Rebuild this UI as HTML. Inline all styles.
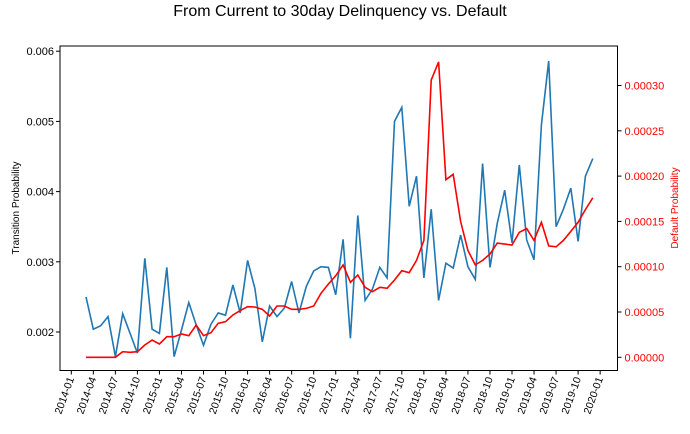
<!DOCTYPE html>
<html><head><meta charset="utf-8"><style>
body{margin:0;background:#fff;}
svg{display:block;font-family:"Liberation Sans","DejaVu Sans",sans-serif;}
</style></head><body>
<svg id="chart" width="690" height="434">
<text x="340" y="16" text-anchor="middle" font-size="16" fill="#000">From Current to 30day Delinquency vs. Default</text>
<text transform="translate(19,208) rotate(-90)" text-anchor="middle" font-size="10">Transition Probability</text>
<text transform="translate(678,208) rotate(-90)" text-anchor="middle" font-size="10" fill="#ff0000">Default Probability</text>
</svg>
<script>
const startYear = 2014, startMonth = 3;
const transition = [0.00250,0.00204,0.00209,0.00222,0.00165,0.00226,0.00198,0.00170,0.00305,0.00204,0.00198,0.00292,0.00165,0.00203,0.00242,0.00210,0.00181,0.00211,0.00227,0.00224,0.00267,0.00227,0.00302,0.00262,0.00186,0.00237,0.00222,0.00234,0.00272,0.00227,0.00265,0.00287,0.00293,0.00292,0.00253,0.00332,0.00191,0.00366,0.00245,0.00261,0.00292,0.00277,0.00500,0.00520,0.00379,0.00422,0.00277,0.00375,0.00245,0.00298,0.00291,0.00338,0.00293,0.00275,0.00440,0.00292,0.00355,0.00402,0.00327,0.00438,0.00331,0.00303,0.00495,0.00586,0.00350,0.00375,0.00405,0.00329,0.00422,0.00447];
const defaultProb = [0,0,0,0,0,0.0000062,0.0000055,0.0000062,0.0000136,0.000019,0.0000147,0.0000227,0.0000227,0.0000257,0.0000238,0.0000357,0.0000238,0.0000272,0.0000375,0.0000393,0.0000467,0.0000515,0.0000559,0.0000555,0.000053,0.0000456,0.0000566,0.0000566,0.000053,0.000053,0.000054,0.0000566,0.0000706,0.0000809,0.000090,0.000102,0.0000828,0.0000908,0.0000773,0.0000724,0.0000773,0.0000762,0.0000853,0.0000956,0.0000934,0.000107,0.000129,0.000306,0.000326,0.000196,0.000202,0.000150,0.000118,0.000102,0.000107,0.000114,0.000126,0.000125,0.000124,0.000138,0.000142,0.000129,0.000149,0.000123,0.000122,0.000129,0.000139,0.000149,0.000163,0.000176];
const leftTicks = [0.002,0.003,0.004,0.005,0.006];
const rightTicks = [0,0.00005,0.0001,0.00015,0.0002,0.00025,0.0003];
const xTickLabels = ["2014-01","2014-04","2014-07","2014-10","2015-01","2015-04","2015-07","2015-10","2016-01","2016-04","2016-07","2016-10","2017-01","2017-04","2017-07","2017-10","2018-01","2018-04","2018-07","2018-10","2019-01","2019-04","2019-07","2019-10","2020-01"];

const svg = document.getElementById('chart');
const NS = 'http://www.w3.org/2000/svg';
const L=60, R=617.5, T=46, B=370.5;
const x0 = 71.3, pxPerMonth = 7.345;
function xMonth(m){ return x0 + m*pxPerMonth; } // months since 2014-01
function yLeft(v){ return 332 - (v-0.002)*70200; }
function yRight(v){ return 357.3 - v*906000; }
function mk(tag, attrs){ const e=document.createElementNS(NS,tag); for(const k in attrs) e.setAttribute(k,attrs[k]); svg.appendChild(e); return e; }

const frame = mk('rect',{x:L,y:T,width:R-L,height:B-T,fill:'none',stroke:'#000','stroke-width':1});



leftTicks.forEach(v=>{
  const y=yLeft(v);
  const t=mk('line',{x1:L-4,x2:L,y1:y,y2:y,stroke:'#000'});
  
  
  const lb=mk('text',{x:L-6,y:y+4,'text-anchor':'end','font-size':11});
  lb.textContent=v.toFixed(3);
  
  
});
rightTicks.forEach(v=>{
  const y=yRight(v);
  const t=mk('line',{x1:R,x2:R+4,y1:y,y2:y,stroke:'#000'});
  
  
  const lb=mk('text',{x:R+7,y:y+4,'font-size':11,fill:'#ff0000'});
  lb.textContent=v.toFixed(5);
  
  
});
xTickLabels.forEach((s,i)=>{
  const x=xMonth(i*3);
  const t=mk('line',{x1:x,x2:x,y1:B,y2:B+4,stroke:'#000'});
  
  
  const lb=mk('text',{'text-anchor':'end','font-size':10.5,transform:`translate(${x+3},${B+8}) rotate(-70)`});
  lb.textContent=s;
  
  
});
const off = startMonth-1 + (startYear-2014)*12;
const p1 = mk('polyline',{points:transition.map((v,i)=>xMonth(off+i).toFixed(1)+','+yLeft(v).toFixed(1)).join(' '),fill:'none',stroke:'#1f77b4','stroke-width':1.6});


const p2 = mk('polyline',{points:defaultProb.map((v,i)=>xMonth(off+i).toFixed(1)+','+yRight(v).toFixed(1)).join(' '),fill:'none',stroke:'#ff0000','stroke-width':1.6});


</script>
</body></html>
